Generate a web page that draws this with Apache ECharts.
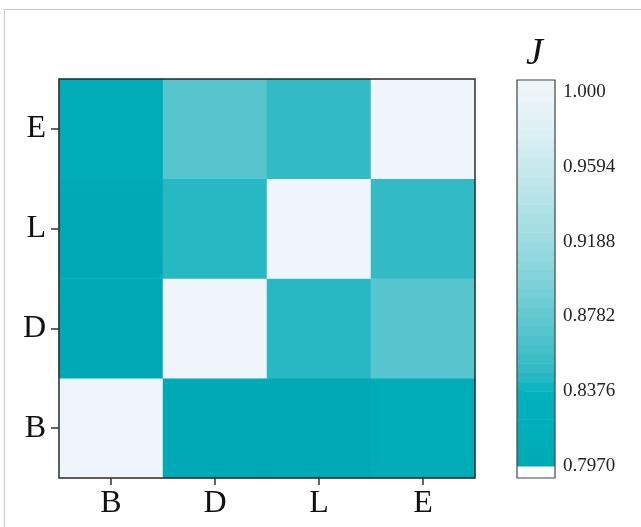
<!DOCTYPE html>
<html>
<head>
<meta charset="utf-8">
<script src="https://cdn.jsdelivr.net/npm/echarts@6/dist/echarts.min.js"></script>
<style>
html,body{margin:0;padding:0;background:#fff;}
#wrap{position:relative;width:641px;height:527px;background:#fff;}
#frame{position:absolute;left:4px;top:9px;width:640px;height:520px;border-top:1px solid #c8c8c8;border-left:1px solid #c8c8c8;}
#chart{position:absolute;left:0;top:0;width:641px;height:527px;}
</style>
</head>
<body>
<div id="wrap"><div id="frame"></div><div id="chart"></div></div>
<script>
// Categories (x: left->right, y: bottom->top)
const categories = ['B', 'D', 'L', 'E'];
// Matrix rows (y category), values per x category
const rowB = [1.000, 0.800, 0.799, 0.812];
const rowD = [0.799, 1.000, 0.846, 0.873];
const rowL = [0.798, 0.845, 1.000, 0.852];
const rowE = [0.812, 0.873, 0.852, 1.000];
const rows = [rowB, rowD, rowL, rowE];
// Colorbar
const cbTicks = [0.7970, 0.8376, 0.8782, 0.9188, 0.9594, 1.000];
const cbMin = 0.7905, cbMax = 1.0065;
const cbStart = 0.7970;
const cbStep = 0.0406 / 8;
const colorStops = [
  [0.797, '#00a8b5'], [0.82, '#00afbb'], [0.8376, '#00b3bf'], [0.845, '#27b9c3'],
  [0.86, '#45c0c8'], [0.8782, '#62c8d0'], [0.90, '#84d3da'], [0.9188, '#9cdbe0'],
  [0.94, '#b2e3e8'], [0.9594, '#c7e9ed'], [0.975, '#d9eff3'], [0.99, '#e7f3f8'],
  [1.0065, '#f1f5fc']
];

function hex2rgb(h){return [parseInt(h.substr(1,2),16),parseInt(h.substr(3,2),16),parseInt(h.substr(5,2),16)];}
function interp(v){
  if (v <= colorStops[0][0]) return colorStops[0][1];
  for (let i = 1; i < colorStops.length; i++) {
    if (v <= colorStops[i][0]) {
      const a = colorStops[i-1], b = colorStops[i];
      const t = (v - a[0]) / (b[0] - a[0]);
      const ca = hex2rgb(a[1]), cb = hex2rgb(b[1]);
      const c = ca.map((x, k) => Math.round(x + (cb[k] - x) * t));
      return 'rgb(' + c.join(',') + ')';
    }
  }
  return colorStops[colorStops.length-1][1];
}

const pieces = [{gte: cbMin, lt: cbStart, color: '#ffffff'}];
const cbData = [[cbMin, cbStart, (cbMin + cbStart) / 2]];
for (let k = 0; ; k++) {
  const lo = cbStart + k * cbStep;
  if (lo >= cbMax - 1e-9) break;
  const hi = Math.min(lo + cbStep, cbMax);
  const mid = (lo + hi) / 2;
  const last = hi >= cbMax - 1e-9;
  pieces.push(last ? {gte: lo, lte: hi + 0.01, color: interp(mid)} : {gte: lo, lt: hi, color: interp(mid)});
  cbData.push([lo, hi, mid]);
}

const heatData = [];
rows.forEach((r, yi) => r.forEach((v, xi) => heatData.push([xi, yi, v])));

const serif = "'Liberation Serif', 'DejaVu Serif', serif";
const chart = echarts.init(document.getElementById('chart'), null, {renderer: 'canvas'});
chart.setOption({
  backgroundColor: 'transparent',
  animation: false,
  grid: [
    {left: 59, top: 79, width: 416, height: 399, show: true, borderColor: '#2a2a2a', borderWidth: 1.5, backgroundColor: 'transparent', z: 3},
    {left: 517, top: 80, width: 38, height: 398, show: true, borderColor: '#444', borderWidth: 1.2, backgroundColor: 'transparent', z: 3}
  ],
  xAxis: [
    {type: 'category', gridIndex: 0, data: categories,
     axisLine: {show: false},
     axisTick: {show: true, alignWithLabel: true, length: 7, lineStyle: {color: '#333', width: 1.5}},
     axisLabel: {fontFamily: serif, fontSize: 32, color: '#111', margin: 10},
     splitLine: {show: false}},
    {type: 'value', gridIndex: 1, min: 0, max: 1, show: false}
  ],
  yAxis: [
    {type: 'category', gridIndex: 0, data: categories,
     axisLine: {show: false},
     axisTick: {show: true, alignWithLabel: true, length: 8, lineStyle: {color: '#333', width: 1.5}},
     axisLabel: {fontFamily: serif, fontSize: 32, color: '#111', margin: 13},
     splitLine: {show: false}},
    {type: 'value', gridIndex: 1, min: cbMin, max: cbMax, position: 'right',
     axisLine: {show: false},
     axisTick: {show: true, customValues: cbTicks, length: 6, lineStyle: {color: '#333', width: 1.2}},
     axisLabel: {show: true, customValues: cbTicks, fontFamily: serif, fontSize: 19, color: '#222', margin: 8,
       formatter: v => (Math.abs(v - 1) < 1e-9 ? '1.000' : v.toFixed(4))},
     splitLine: {show: false}}
  ],
  visualMap: {type: 'piecewise', show: false, dimension: 2, seriesIndex: [0, 1], pieces: pieces},
  graphic: [{type: 'text', left: 526, top: 35, style: {text: 'J', fontFamily: serif, fontStyle: 'italic', fontSize: 38, fill: '#111'}}],
  series: [
    {type: 'heatmap', xAxisIndex: 0, yAxisIndex: 0, data: heatData, emphasis: {disabled: true}, itemStyle: {borderWidth: 0}},
    {type: 'custom', xAxisIndex: 1, yAxisIndex: 1, data: cbData, encode: {y: [0, 1]}, silent: true,
     renderItem: function (params, api) {
       const lo = api.value(0), hi = api.value(1);
       const p0 = api.coord([0, lo]);
       const p1 = api.coord([1, hi]);
       return {type: 'rect', shape: {x: p0[0], y: p1[1], width: p1[0] - p0[0], height: p0[1] - p1[1] + 0.6},
               style: {fill: api.visual('color')}};
     }}
  ]
});
</script>
</body>
</html>
